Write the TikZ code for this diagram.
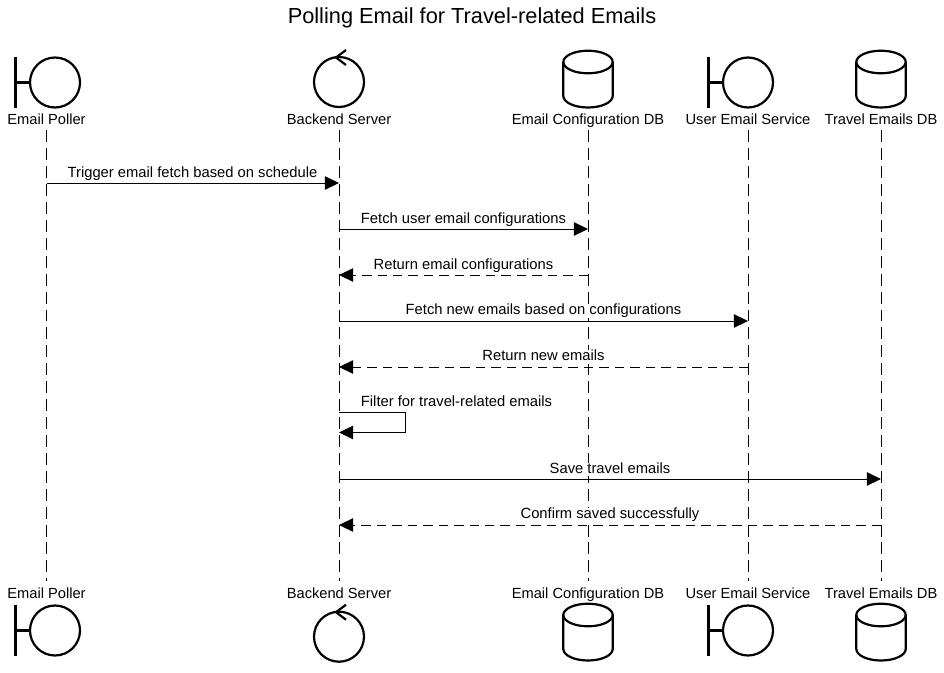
\documentclass[tikz,border=0pt]{standalone}
\usepackage{fontspec}
\setmainfont{Liberation Sans}
\usetikzlibrary{arrows.meta}

\tikzset{
    actorlabel/.style={font=\fontsize{8.35}{10}\selectfont, inner sep=0pt, text height=5.6pt, text depth=2.1pt, minimum height=10.2pt},
    msglabel/.style={font=\fontsize{8.4}{10}\selectfont, inner sep=0pt, text height=6pt, text depth=1.7pt, fill=white},
    lifeline/.style={line width=0.55pt, dash pattern=on 6.8pt off 3.4pt, shorten >=2.8pt},
    syncmsg/.style={line width=0.55pt, -{Triangle[length=8pt,width=7.6pt]}},
    replymsg/.style={syncmsg, dash pattern=on 5.4pt off 3.4pt},
    boundary/.pic={
        \draw[line width=1.25pt] (-39.5,-25.5) -- (-39.5,25.5);
        \draw[line width=1.25pt] (-39.5,0) -- (-25,0);
        \draw[line width=1.25pt] (0,0) circle (25);
    },
    controller/.pic={
        \draw[line width=1.25pt] (0,0) circle (25);
        \draw[line width=1.25pt] (7,-32) -- (-3,-24.5) -- (7,-17);
    },
    database/.pic={
        \draw[line width=1.25pt] (0,0) ellipse (24.7 and 11.3);
        \draw[line width=1.25pt] (-24.7,0) -- (-24.7,34) arc[start angle=180, end angle=0, x radius=24.7, y radius=11.5] -- (24.7,0);
    }
}

\begin{document}
\begin{tikzpicture}[x=0.02cm, y=-0.02cm]
    \useasboundingbox (0,0) rectangle (944,673);

    % Title
    \node (title) at (472,18) [font=\fontsize{12.4}{15}\selectfont, inner sep=0pt] {Polling Email for Travel-related Emails};

    % Symbols on top
    \pic at (55,82.5) {boundary};
    \pic at (339,82) {controller};
    \pic at (588,62) {database};
    \pic at (748,82.5) {boundary};
    \pic at (881,62) {database};

    % Symbols at the bottom
    \pic at (55,630.5) {boundary};
    \pic at (339,636.7) {controller};
    \pic at (588,615) {database};
    \pic at (748,630.5) {boundary};
    \pic at (881,615) {database};

    % Names on top
    \node (pollertop) at (46.5,121) [actorlabel] {Email Poller};
    \node (servertop) at (339,121) [actorlabel] {Backend Server};
    \node (configtop) at (588,121) [actorlabel] {Email Configuration DB};
    \node (mailtop) at (748,121) [actorlabel] {User Email Service};
    \node (traveltop) at (881,121) [actorlabel] {Travel Emails DB};

    % Names at the bottom
    \node (pollerbot) at (46.5,595) [actorlabel] {Email Poller};
    \node (serverbot) at (339,595) [actorlabel] {Backend Server};
    \node (configbot) at (588,595) [actorlabel] {Email Configuration DB};
    \node (mailbot) at (748,595) [actorlabel] {User Email Service};
    \node (travelbot) at (881,595) [actorlabel] {Travel Emails DB};

    % Lifelines
    \draw[lifeline] (pollertop) -- (pollerbot);
    \draw[lifeline] (servertop) -- (serverbot);
    \draw[lifeline] (configtop) -- (configbot);
    \draw[lifeline] (mailtop) -- (mailbot);
    \draw[lifeline] (traveltop) -- (travelbot);

    % Ends of the messages
    \coordinate (p1) at (pollertop |- 0,183);
    \coordinate (s1) at (servertop |- 0,183);
    \coordinate (s2) at (servertop |- 0,229);
    \coordinate (c2) at (configtop |- 0,229);
    \coordinate (s3) at (servertop |- 0,275);
    \coordinate (c3) at (configtop |- 0,275);
    \coordinate (s4) at (servertop |- 0,321);
    \coordinate (m4) at (mailtop |- 0,321);
    \coordinate (s5) at (servertop |- 0,367);
    \coordinate (m5) at (mailtop |- 0,367);
    \coordinate (s6) at (servertop |- 0,412.5);
    \coordinate (r6) at (405,412.5);
    \coordinate (q6) at (405,432.5);
    \coordinate (e6) at (servertop |- 0,432.5);
    \coordinate (s7) at (servertop |- 0,479);
    \coordinate (t7) at (traveltop |- 0,479);
    \coordinate (s8) at (servertop |- 0,525);
    \coordinate (t8) at (traveltop |- 0,525);

    % Messages
    \draw[syncmsg] (p1) -- (s1);
    \draw[syncmsg] (s2) -- (c2);
    \draw[replymsg] (c3) -- (s3);
    \draw[syncmsg] (s4) -- (m4);
    \draw[replymsg] (m5) -- (s5);
    \draw[syncmsg] (s6) -- (r6) -- (q6) -- (e6);
    \draw[syncmsg] (s7) -- (t7);
    \draw[replymsg] (t8) -- (s8);

    % Message labels
    \node (trigger) at (192.5,173.5) [msglabel] {Trigger email fetch based on schedule};
    \node (fetchcfg) at (463.5,219.5) [msglabel] {Fetch user email configurations};
    \node (returncfg) at (463.5,265.5) [msglabel] {Return email configurations};
    \node (fetchnew) at (543.5,311) [msglabel] {Fetch new emails based on configurations};
    \node (returnnew) at (543.5,357) [msglabel] {Return new emails};
    \node (filter) at (456.5,402.5) [msglabel] {Filter for travel-related emails};
    \node (save) at (610,469.5) [msglabel] {Save travel emails};
    \node (confirm) at (610,515) [msglabel] {Confirm saved successfully};
\end{tikzpicture}
\end{document}
